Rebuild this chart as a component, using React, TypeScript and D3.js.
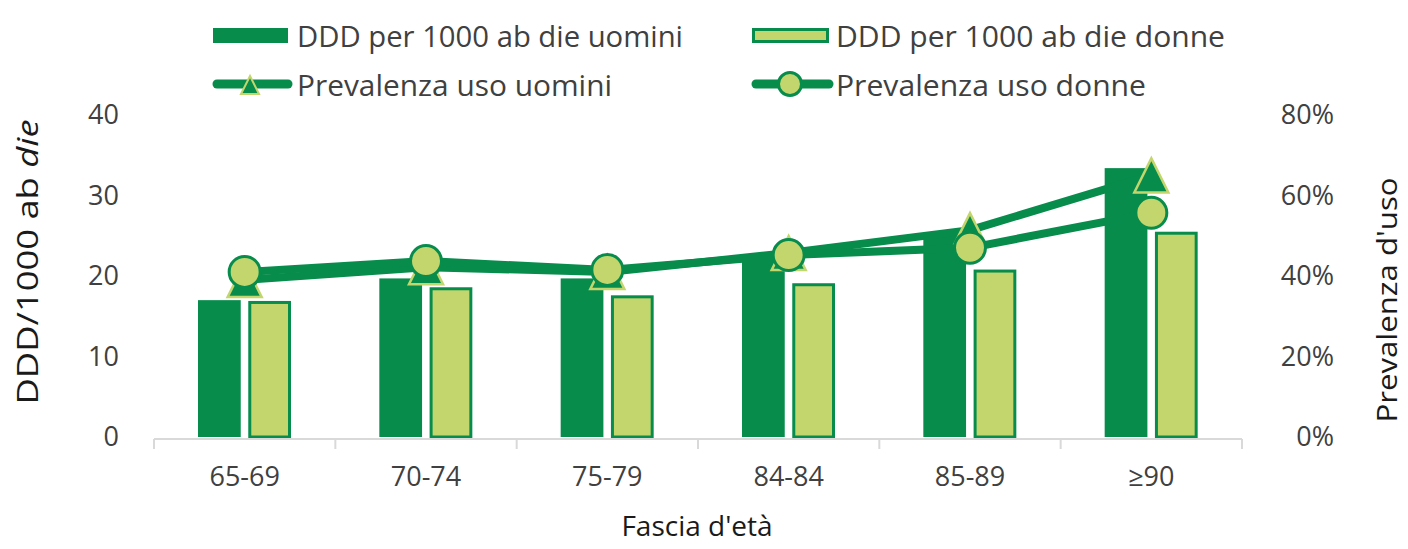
import React from 'react';
import * as d3 from 'd3';

const categories = ['65-69', '70-74', '75-79', '84-84', '85-89', '≥90'];
const dddUomini = [17.0, 19.7, 19.7, 22.4, 25.3, 33.4];
const dddDonne = [16.9, 18.6, 17.6, 19.1, 20.8, 25.5];
const prevUomini = [0.39, 0.422, 0.41, 0.457, 0.514, 0.65];
const prevDonne = [0.41, 0.437, 0.415, 0.452, 0.47, 0.557];
const leftTicks = [0, 10, 20, 30, 40];
const rightTicks = [0, 0.2, 0.4, 0.6, 0.8];

const DARK = '#078c4c';
const LIGHT = '#c3d66d';
const TEXT = '#404040';
const FONT = "'Open Sans', 'Noto Sans', sans-serif";

const W = 1408;
const H = 549;

export default function App() {
  const x = d3.scaleBand<string>().domain(categories).range([154, 1242]);
  const x1 = d3.scaleBand<string>().domain(['u', 'd']).range([44, 137]).paddingInner(0.15);
  const yL = d3.scaleLinear().domain([0, 40]).range([437, 115]);
  const yR = d3.scaleLinear().domain([0, 0.8]).range([437, 115]);
  const cx = (c: string) => (x(c) ?? 0) + x.bandwidth() / 2;

  const line = d3.line<number>()
    .x((_, i) => cx(categories[i]))
    .y(d => yR(d));

  const tri = (px: number, py: number, s: number) =>
    `M${px},${py - s}L${px + s},${py + s}L${px - s},${py + s}Z`;

  const fmtPct = d3.format('.0%');

  return (
    <svg width={W} height={H} style={{ position: 'absolute', left: 0, top: 0, background: '#fff' }}
      fontFamily={FONT}>
      {/* legend */}
      <g fontSize={29} fill={TEXT}>
        <rect x={213} y={28} width={75} height={15} fill={DARK} />
        <text x={297} y={47} textLength={386} lengthAdjust="spacingAndGlyphs">DDD per 1000 ab die uomini</text>
        <rect x={753.5} y={29.5} width={74} height={12} fill={LIGHT} stroke={DARK} strokeWidth={3} />
        <text x={836} y={47} textLength={389} lengthAdjust="spacingAndGlyphs">DDD per 1000 ab die donne</text>
        <line x1={217} x2={288} y1={84} y2={84} stroke={DARK} strokeWidth={9} strokeLinecap="round" />
        <path d={tri(250, 85, 9)} fill={DARK} stroke={LIGHT} strokeWidth={2} />
        <text x={297} y={96} textLength={315} lengthAdjust="spacingAndGlyphs">Prevalenza uso uomini</text>
        <line x1={756} x2={829} y1={84} y2={84} stroke={DARK} strokeWidth={9} strokeLinecap="round" />
        <circle cx={790} cy={84} r={11.5} fill={LIGHT} stroke={DARK} strokeWidth={3} />
        <text x={836} y={96} textLength={310} lengthAdjust="spacingAndGlyphs">Prevalenza uso donne</text>
      </g>

      {/* left axis labels */}
      <g fontSize={27} fill={TEXT} textAnchor="end">
        {leftTicks.map(t => (
          <text key={t} x={119} y={yL(t)} dy="0.35em">{t}</text>
        ))}
      </g>
      {/* right axis labels */}
      <g fontSize={27} fill={TEXT} textAnchor="end">
        {rightTicks.map(t => (
          <text key={t} x={1334} y={yR(t)} dy="0.35em">{fmtPct(t)}</text>
        ))}
      </g>

      {/* axis titles */}
      <text transform="translate(38,262) rotate(-90)" textAnchor="middle" fontSize={30} fill="#1a1a1a"
        textLength={285} lengthAdjust="spacingAndGlyphs">
        DDD/1000 ab <tspan fontStyle="italic">die</tspan>
      </text>
      <text transform="translate(1397,300) rotate(-90)" textAnchor="middle" fontSize={28} fill="#1a1a1a"
        textLength={245} lengthAdjust="spacingAndGlyphs">
        Prevalenza d'uso
      </text>
      <text x={697} y={536} textAnchor="middle" fontSize={28} fill="#1a1a1a">Fascia d'età</text>

      {/* bars */}
      {categories.map((c, i) => (
        <g key={c} transform={`translate(${x(c)},0)`}>
          <rect x={x1('u')} y={yL(dddUomini[i])} width={x1.bandwidth()}
            height={yL(0) - yL(dddUomini[i])} fill={DARK} />
          <rect x={(x1('d') ?? 0) + 1.5} y={yL(dddDonne[i]) + 1.5} width={x1.bandwidth() - 3}
            height={yL(0) - yL(dddDonne[i]) - 1.5} fill={LIGHT} stroke={DARK} strokeWidth={3} />
        </g>
      ))}

      {/* x axis */}
      <line x1={154} x2={1242} y1={439} y2={439} stroke="#d9d9d9" strokeWidth={2} />
      {[...categories.map(c => x(c) ?? 0), 1242].map((t, i) => (
        <line key={i} x1={t} x2={t} y1={439} y2={449} stroke="#d9d9d9" strokeWidth={2} />
      ))}
      <g fontSize={27} fill={TEXT} textAnchor="middle">
        {categories.map(c => (
          <text key={c} x={cx(c)} y={486}>{c}</text>
        ))}
      </g>

      {/* prevalence lines */}
      <path d={line(prevUomini) ?? ''} fill="none" stroke={DARK} strokeWidth={8} strokeLinejoin="round" />
      {prevUomini.map((v, i) => (
        <path key={i} d={tri(cx(categories[i]), yR(v), 17)} fill={DARK} stroke={LIGHT} strokeWidth={2.5} />
      ))}
      <path d={line(prevDonne) ?? ''} fill="none" stroke={DARK} strokeWidth={8} strokeLinejoin="round" />
      {prevDonne.map((v, i) => (
        <circle key={i} cx={cx(categories[i])} cy={yR(v)} r={15.5} fill={LIGHT} stroke={DARK} strokeWidth={3} />
      ))}
    </svg>
  );
}
